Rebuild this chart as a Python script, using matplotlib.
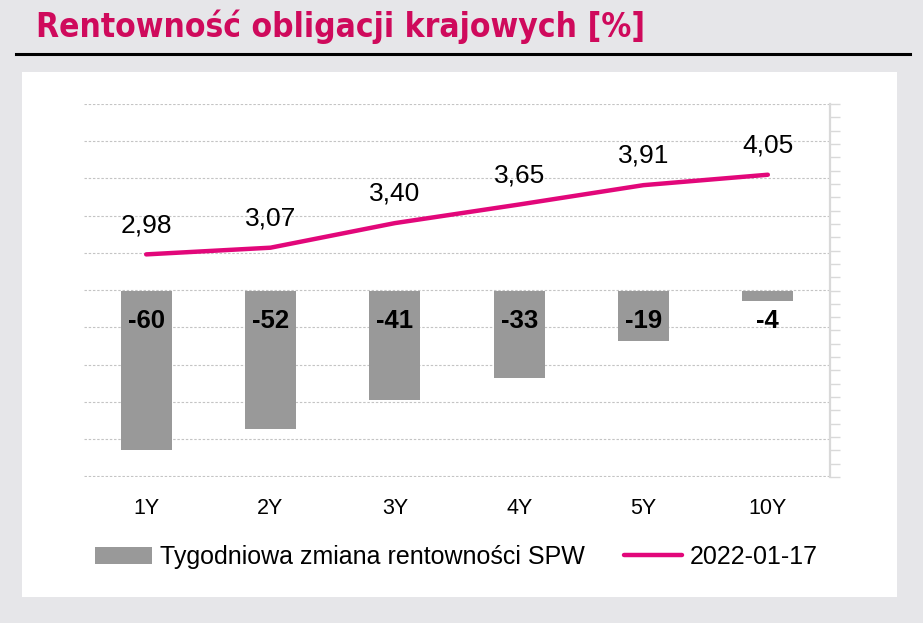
import numpy as np
import matplotlib.pyplot as plt
from matplotlib.patches import Rectangle
from matplotlib.lines import Line2D

# data
tenors = ["1Y", "2Y", "3Y", "4Y", "5Y", "10Y"]
weekly_change = [-60, -52, -41, -33, -19, -4]      # bp, grey bars
yields = [2.98, 3.07, 3.40, 3.65, 3.91, 4.05]      # %, line
line_label = "2022-01-17"
bar_label = "Tygodniowa zmiana rentowności SPW"

pink = "#e2077a"
title_pink = "#cf0a5c"
bar_grey = "#999999"
bg = "#e6e6e9"

plt.rcParams["font.family"] = ["Liberation Sans", "DejaVu Sans"]

fig = plt.figure(figsize=(9.23, 6.23), dpi=100, facecolor=bg)

# white panel + title with underline
fig.patches.append(Rectangle((22 / 923, 1 - 597 / 623), 875 / 923, 525 / 623,
                             transform=fig.transFigure, facecolor="white",
                             edgecolor="none", zorder=-10))
fig.text(36 / 923, 1 - 37 / 623, "Rentowność obligacji krajowych [%]",
         color=title_pink, fontsize=24, fontweight="bold",
         family="DejaVu Sans", fontstretch="condensed",
         va="baseline", ha="left")
fig.add_artist(Line2D([16 / 923, 910 / 923], [1 - 54 / 623, 1 - 54 / 623],
                      transform=fig.transFigure, color="black", lw=2.2))

x = np.arange(len(tenors))

ax = fig.add_axes([84 / 923, 1 - 477 / 623, 746 / 923, 373 / 623])
ax2 = ax.twinx()

# left axis: yields (line) with the dotted grid
ax.set_facecolor("none")
ax.set_xlim(-0.5, len(tenors) - 0.5)
ax.set_ylim(-0.01, 5)
ax.set_yticks(np.arange(0, 5.01, 0.5))
ax.grid(axis="y", color="#c4c4c4", linestyle=(0, (2.2, 1.6)), linewidth=0.8)
ax.set_axisbelow(True)
ax.tick_params(axis="y", left=False, right=False, labelleft=False)
ax.set_xticks(x)
ax.set_xticklabels(tenors, fontsize=15.5)
ax.tick_params(axis="x", length=0, pad=15)
for s in ax.spines.values():
    s.set_visible(False)

line, = ax.plot(x, yields, color=pink, lw=3.2, solid_capstyle="round",
                label=line_label, zorder=3)
for xi, v in zip(x, yields):
    ax.annotate(f"{v:.2f}".replace(".", ","), (xi, v), xytext=(0, 16),
                textcoords="offset points", ha="center", va="baseline",
                fontsize=19)

# right axis: weekly change (bars)
ax2.set_ylim(-70, 70)
bars = ax2.bar(x, weekly_change, width=0.41, color=bar_grey,
               label=bar_label, zorder=2)
for xi, v in zip(x, weekly_change):
    ax2.text(xi, -13.9, f"{v}", ha="center", va="baseline",
             fontsize=18.5, fontweight="bold")
ax2.set_yticks(np.arange(-70, 71, 5))
ax2.tick_params(axis="y", left=False, right=True, labelright=False,
                length=7, width=1, color="#d9d9d9", direction="out")
for name, s in ax2.spines.items():
    s.set_visible(name == "right")
ax2.spines["right"].set_color("#d9d9d9")
ax2.spines["right"].set_linewidth(1.6)

fig.legend([bars, line], [bar_label, line_label], loc="center",
           bbox_to_anchor=(456 / 923, 1 - 557 / 623), ncol=2, frameon=False,
           fontsize=18, handlelength=2.3, handletextpad=0.3,
           columnspacing=1.6)

fig.savefig("out.png", dpi=100, facecolor=bg)
